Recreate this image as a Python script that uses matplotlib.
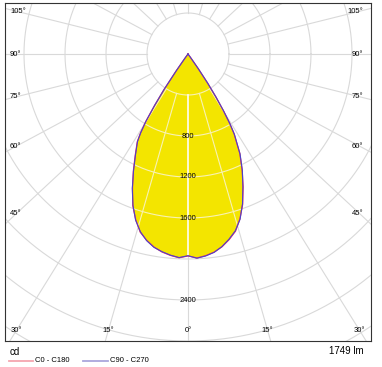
import matplotlib
matplotlib.use("Agg")
import matplotlib.pyplot as plt
from matplotlib.lines import Line2D
import numpy as np

plt.rcParams['font.family'] = ['Liberation Sans', 'DejaVu Sans']

# gamma angles (deg from nadir) and luminous intensity (cd) per C-plane half
gamma = [0, 2.5, 5, 7.5, 10, 12.5, 15, 17.5, 20, 22.5, 25, 27.5, 30, 31, 32, 33, 34, 35, 36, 37.5, 40, 90, 180]
i_c0 = [1970, 1992, 1975, 1950, 1910, 1855, 1790, 1685, 1560, 1405, 1250, 1095, 900, 790, 650, 500, 340, 170, 40, 0, 0, 0, 0]
i_c180 = [1970, 1990, 1972, 1948, 1912, 1862, 1800, 1695, 1575, 1415, 1262, 1115, 990, 900, 780, 600, 420, 200, 50, 0, 0, 0, 0]
i_c90 = [1968, 1994, 1978, 1952, 1908, 1850, 1785, 1690, 1555, 1400, 1255, 1100, 905, 795, 655, 505, 345, 175, 42, 0, 0, 0, 0]
i_c270 = [1968, 1988, 1970, 1945, 1915, 1865, 1795, 1700, 1570, 1420, 1258, 1110, 985, 895, 775, 595, 415, 195, 48, 0, 0, 0, 0]

circle_values = [400, 800, 1200, 1600, 2000, 2400, 2800, 3200]
ray_angles = list(range(0, 360, 15))
value_labels = [800, 1200, 1600, 2400]
side_labels = [45, 60, 75, 90, 105]
bottom_labels = [0, 15, 30]
flux_text = "1749 lm"
unit_text = "cd"
legend_names = ["C0 - C180", "C90 - C270"]

W, H = 382, 367
s = 400 / 41.0          # cd per pixel
k = 0.93                # squash of the angle rays as drawn in the reference

fig = plt.figure(figsize=(W / 100, H / 100), dpi=100)
ax = fig.add_axes([5 / W, 26 / H, 366 / W, 338 / H])
ax.set_xlim(-183 * s, 183 * s)
ax.set_ylim(-287 * s, 51 * s)
ax.set_xticks([])
ax.set_yticks([])
for sp in ax.spines.values():
    sp.set_color('#333333')
    sp.set_linewidth(0.8)


def curve(right, left):
    g = np.radians(gamma)
    r = np.asarray(right, float)
    l = np.asarray(left, float)
    x = np.concatenate([-l[::-1] * np.sin(g[::-1]), r * np.sin(g)])
    y = np.concatenate([-l[::-1] * np.cos(g[::-1]), -r * np.cos(g)])
    return x, y


def ray_dir(a):
    t = np.radians(a)
    d = np.array([np.sin(t), -k * np.cos(t)])
    return d / np.hypot(*d)


def draw_grid(color, lw, z, clip=None):
    th = np.linspace(0, 2 * np.pi, 400)
    arts = []
    for v in circle_values:
        arts += ax.plot(v * np.cos(th), v * np.sin(th), color=color, lw=lw, zorder=z)
    for a in ray_angles:
        d = ray_dir(a)
        w = lw * 1.6 if (clip is not None and a == 0) else lw
        c = '#fffbe8' if (clip is not None and a == 0) else color
        arts += ax.plot([400 * d[0], 5000 * d[0]], [400 * d[1], 5000 * d[1]],
                        color=c, lw=w, zorder=z)
    if clip is not None:
        for art in arts:
            art.set_clip_path(clip)


draw_grid('#d9d9d9', 0.8, 1)

fx, fy = curve(i_c0, i_c180)
patch = ax.fill(fx, fy, color='#f3e500', lw=0, zorder=2)[0]
draw_grid('#f8f2b4', 0.8, 3, clip=patch)

ax.plot(fx, fy, color='#ff3355', lw=0.9, zorder=4)
bx, by = curve(i_c90, i_c270)
ax.plot(bx, by, color='#4a44c8', lw=0.8, zorder=5)

fs = 5.5
for v in value_labels:
    ax.text(0, -v, str(v), ha='center', va='center', fontsize=fs, zorder=6)

xl = 172 * s
for a in side_labels:
    d = ray_dir(a)
    yy = d[1] / d[0] * xl
    ax.text(-178 * s, yy, f"{a}°", ha='left', va='center', fontsize=fs, zorder=6)
    ax.text(175 * s, yy, f"{a}°", ha='right', va='center', fontsize=fs, zorder=6)

yb = -(330 - 54) * s
for a in bottom_labels:
    d = ray_dir(a)
    xx = d[0] / d[1] * yb
    ax.text(xx, yb, f"{a}°", ha='center', va='center', fontsize=fs, zorder=6)
    if a:
        ax.text(-xx, yb, f"{a}°", ha='center', va='center', fontsize=fs, zorder=6)

fig.text(10 / W, 1 - 352 / H, unit_text, ha='left', va='center', fontsize=7)
fig.text(364 / W, 1 - 351 / H, flux_text, ha='right', va='center', fontsize=7)

ly = 1 - 361 / H
for (x0, x1, xt), col, name in zip([(9, 33, 35), (83, 108, 110)],
                                   ['#f4a6b0', '#aaa6dc'], legend_names):
    fig.add_artist(Line2D([x0 / W, x1 / W], [ly, ly], color=col, lw=1.3))
    fig.text(xt / W, ly, name, ha='left', va='center', fontsize=fs)

fig.savefig('out.png', dpi=100)
